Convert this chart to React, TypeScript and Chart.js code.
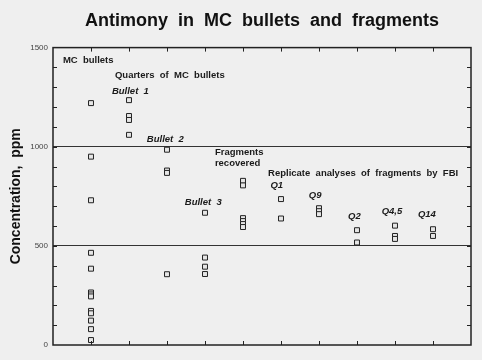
import React, { useEffect, useRef } from 'react';
import { Chart, registerables } from 'chart.js';

Chart.register(...registerables);

// Column positions (category index) for each group
const groupPositions = [1, 2, 3, 4, 5, 6, 7, 8, 9, 10];
// Antimony concentrations, ppm
const mcBullets = [1220, 950, 730, 465, 385, 265, 255, 245, 172, 160, 123, 80, 25];
const bullet1Quarters = [1235, 1155, 1135, 1060];
const bullet2Quarters = [985, 880, 868, 357];
const bullet3Quarters = [667, 441, 395, 358];
const fragmentsRecovered = [828, 805, 640, 625, 610, 595];
const q1 = [736, 638];
const q9 = [690, 675, 660];
const q2 = [579, 517];
const q45 = [602, 550, 535];
const q14 = [584, 550];
const groups = [mcBullets, bullet1Quarters, bullet2Quarters, bullet3Quarters, fragmentsRecovered, q1, q9, q2, q45, q14];

const yTickLabels = [0, 500, 1000, 1500];
const referenceLines = [500, 1000];

const titleText = 'Antimony  in  MC  bullets  and  fragments';
const yTitle = 'Concentration,  ppm';

// Annotation texts: [text, x (category units), y (ppm), align, italic]
const annotations: [string, number, number, CanvasTextAlign, boolean][] = [
  ['MC  bullets', 0.26, 1434, 'left', false],
  ['Quarters  of  MC  bullets', 1.63, 1360, 'left', false],
  ['Bullet  1', 1.55, 1278, 'left', true],
  ['Bullet  2', 2.47, 1035, 'left', true],
  ['Fragments', 4.26, 970, 'left', false],
  ['recovered', 4.26, 914, 'left', false],
  ['Replicate  analyses  of  fragments  by  FBI', 5.66, 864, 'left', false],
  ['Bullet  3', 4.44, 717, 'right', true],
  ['Q1', 5.89, 803, 'center', true],
  ['Q9', 6.9, 753, 'center', true],
  ['Q2', 7.93, 648, 'center', true],
  ['Q4,5', 8.92, 672, 'center', true],
  ['Q14', 9.84, 657, 'center', true],
];

const FONT = '"Liberation Sans", Arial, sans-serif';

const decorPlugin = {
  id: 'decor',
  beforeDraw(chart: any) {
    const { ctx } = chart;
    ctx.save();
    ctx.fillStyle = '#efefef';
    ctx.fillRect(0, 0, chart.width, chart.height);
    ctx.restore();
  },
  afterDraw(chart: any) {
    const { ctx, chartArea: a, scales } = chart;
    const xs = scales.x;
    const ys = scales.y;
    ctx.save();
    ctx.strokeStyle = '#222';
    // frame
    ctx.lineWidth = 1.5;
    ctx.strokeRect(a.left, a.top, a.right - a.left, a.bottom - a.top);
    // inward ticks
    ctx.lineWidth = 1;
    const tl = 4;
    for (const p of groupPositions) {
      const px = Math.round(xs.getPixelForValue(p)) + 0.5;
      ctx.beginPath();
      ctx.moveTo(px, a.bottom);
      ctx.lineTo(px, a.bottom - tl);
      ctx.moveTo(px, a.top);
      ctx.lineTo(px, a.top + tl);
      ctx.stroke();
    }
    for (let v = 100; v < 1500; v += 100) {
      const py = Math.round(ys.getPixelForValue(v)) + 0.5;
      ctx.beginPath();
      ctx.moveTo(a.left, py);
      ctx.lineTo(a.left + tl, py);
      ctx.moveTo(a.right, py);
      ctx.lineTo(a.right - tl, py);
      ctx.stroke();
    }
    // annotations
    ctx.fillStyle = '#1a1a1a';
    ctx.textBaseline = 'middle';
    for (const [text, x, y, align, italic] of annotations) {
      ctx.font = (italic ? 'italic bold ' : 'bold ') + '9.5px ' + FONT;
      ctx.textAlign = align;
      ctx.fillText(text, xs.getPixelForValue(x), ys.getPixelForValue(y));
    }
    ctx.restore();
  },
};

export default function App() {
  const ref = useRef<HTMLCanvasElement | null>(null);
  useEffect(() => {
    if (!ref.current) return;
    const datasets = groups.map((vals, i) => ({
      data: vals.map((v) => ({ x: groupPositions[i], y: v })),
      pointStyle: 'rect' as const,
      pointRadius: 3.5,
      borderWidth: 1,
      borderColor: '#222',
      backgroundColor: '#e6e6e6',
      showLine: false,
    }));
    const chart = new Chart(ref.current, {
      type: 'scatter',
      data: { datasets },
      plugins: [decorPlugin],
      options: {
        animation: false,
        responsive: false,
        devicePixelRatio: 1,
        layout: { padding: { left: 0, right: 11, top: 0, bottom: 15 } },
        plugins: {
          legend: { display: false },
          tooltip: { enabled: false },
          title: {
            display: true,
            text: titleText,
            fullSize: false,
            color: '#111',
            font: { family: FONT, size: 18, weight: 'bold' },
            padding: { top: 10, bottom: 16 },
          },
        },
        scales: {
          x: { type: 'linear', min: 0, max: 11, display: false },
          y: {
            type: 'linear',
            min: 0,
            max: 1500,
            afterFit: (s: any) => { s.width = 53; },
            afterBuildTicks: (s: any) => { s.ticks = yTickLabels.map((v) => ({ value: v })); },
            ticks: {
              color: '#444',
              font: { family: FONT, size: 8 },
              padding: 5,
              callback: (v: any) => String(v),
            },
            grid: {
              drawTicks: false,
              lineWidth: 1,
              color: (c: any) => (c.tick && referenceLines.includes(c.tick.value) ? '#333' : 'transparent'),
            },
            border: { display: false },
            title: {
              display: true,
              text: yTitle,
              color: '#111',
              font: { family: FONT, size: 14, weight: 'bold' },
              padding: { top: 8, bottom: 0 },
            },
          },
        },
      },
    });
    return () => chart.destroy();
  }, []);
  return (
    <div style={{ position: 'fixed', left: 0, top: 0, width: 482, height: 360 }}>
      <canvas ref={ref} width={482} height={360} style={{ display: 'block' }} />
    </div>
  );
}
